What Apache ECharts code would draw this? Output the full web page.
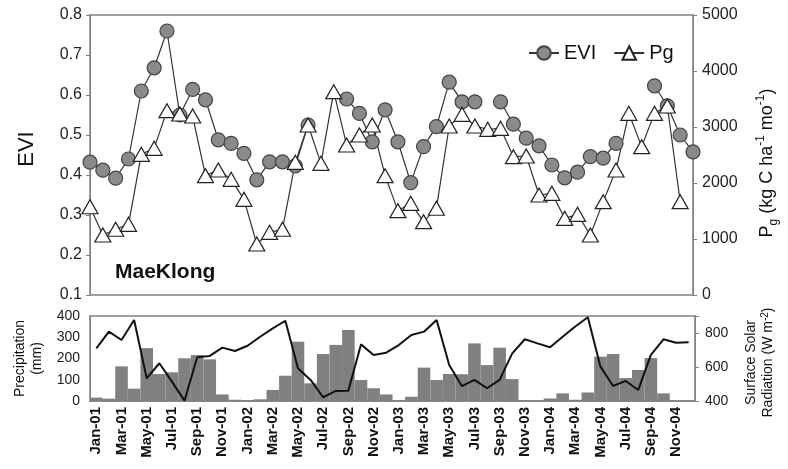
<!DOCTYPE html>
<html><head><meta charset="utf-8">
<script src="https://cdn.jsdelivr.net/npm/echarts@6/dist/echarts.min.js"></script>
<style>html,body{margin:0;padding:0;background:#fff}#c{width:788px;height:469px}</style>
</head><body><div id="c"></div>
<script>
const months = [
 'Jan-01','Feb-01','Mar-01','Apr-01','May-01','Jun-01','Jul-01','Aug-01','Sep-01','Oct-01','Nov-01','Dec-01',
 'Jan-02','Feb-02','Mar-02','Apr-02','May-02','Jun-02','Jul-02','Aug-02','Sep-02','Oct-02','Nov-02','Dec-02',
 'Jan-03','Feb-03','Mar-03','Apr-03','May-03','Jun-03','Jul-03','Aug-03','Sep-03','Oct-03','Nov-03','Dec-03',
 'Jan-04','Feb-04','Mar-04','Apr-04','May-04','Jun-04','Jul-04','Aug-04','Sep-04','Oct-04','Nov-04','Dec-04'];
const evi = [
 0.432,0.412,0.392,0.440,0.610,0.668,0.760,0.550,0.614,0.588,0.488,0.479,
 0.454,0.388,0.433,0.433,0.423,0.525,null,null,0.590,0.554,0.483,0.563,
 0.483,0.381,0.471,0.521,0.632,0.583,0.583,null,0.583,0.527,0.492,0.473,
 0.425,0.393,0.407,0.446,0.442,0.479,null,null,0.623,0.573,0.500,0.458];
const pg = [
 1577,1071,1173,1262,2512,2619,3292,3232,3196,2131,2232,2065,
 1708,911,1119,1173,2369,3036,2351,3631,2679,2857,3036,2131,
 1506,1637,1310,1548,3018,3226,3018,2958,2976,2470,2482,1786,
 1815,1369,1440,1071,1667,2232,3244,2649,3244,3375,1667,null];
const precipitation = [
 16,11,163,58,249,127,135,201,216,196,31,6,
 2,8,52,119,279,83,221,264,334,99,60,31,
 1,20,157,99,127,126,271,169,251,103,1,1,
 12,36,6,40,209,221,108,146,202,36,0,0];
const radiation = [
 710,808,759,876,533,622,514,402,657,665,714,694,
 725,778,827,872,592,524,422,459,461,733,671,684,
 729,788,808,876,612,488,524,475,524,680,763,739,
 716,778,838,893,602,488,518,465,671,763,743,745];

const FONT = 'Liberation Sans, Arial, sans-serif';
const GRAY = '#808080';
const chart = echarts.init(document.getElementById('c'));
chart.setOption({
  animation: false,
  textStyle: {fontFamily: FONT},
  title: {text: 'MaeKlong', left: 110, top: 257,
    textStyle: {fontFamily: FONT, fontSize: 21, fontWeight: 'bold', color: '#111'}},
  legend: {data: ['EVI', 'Pg'], left: 523, top: 38, itemWidth: 30, itemHeight: 17, itemGap: 17,
    textStyle: {fontFamily: FONT, fontSize: 20, color: '#111'}},
  grid: [
    {left: 90, top: 15, width: 603, height: 280, show: true, borderColor: GRAY, borderWidth: 1.5},
    {left: 90, top: 316, width: 605, height: 85, show: true, borderColor: GRAY, borderWidth: 1.5}
  ],
  xAxis: [
    {gridIndex: 0, type: 'category', data: months, boundaryGap: false,
      axisLine: {show: false}, axisTick: {show: false}, axisLabel: {show: false}},
    {gridIndex: 1, type: 'category', data: months, boundaryGap: true,
      axisLine: {lineStyle: {color: GRAY, width: 1.5}},
      axisTick: {interval: 1, length: 4, lineStyle: {color: GRAY}},
      axisLabel: {interval: 1, rotate: 90, fontSize: 15, fontWeight: 'bold', color: '#111', margin: 6}}
  ],
  yAxis: [
    {gridIndex: 0, type: 'value', min: 0.1, max: 0.8, interval: 0.1,
      name: 'EVI', nameLocation: 'middle', nameGap: 52, nameRotate: 90,
      nameTextStyle: {fontSize: 22, color: '#111', padding: [0, 0, 0, 12]},
      axisLine: {show: true, lineStyle: {color: GRAY}},
      axisTick: {show: true, length: 4, lineStyle: {color: GRAY}},
      axisLabel: {fontSize: 16, color: '#222', margin: 8, formatter: v => v.toFixed(1)},
      splitLine: {show: false}},
    {gridIndex: 0, type: 'value', position: 'right', min: 0, max: 5000, interval: 1000,
      name: '{a|P}{sub|g}{a| (kg C ha}{sup|-1}{a| mo}{sup|-1}{a|)}',
      nameLocation: 'middle', nameGap: 62, nameRotate: 90,
      nameTextStyle: {padding: [0, 16, 0, 0], rich: {
        a: {fontSize: 18, color: '#111', lineHeight: 25, fontFamily: FONT},
        sub: {fontSize: 12, color: '#111', lineHeight: 12, verticalAlign: 'bottom', fontFamily: FONT},
        sup: {fontSize: 12, color: '#111', lineHeight: 12, verticalAlign: 'top', fontFamily: FONT}}},
      axisLine: {show: true, lineStyle: {color: GRAY}},
      axisTick: {show: true, length: 4, lineStyle: {color: GRAY}},
      axisLabel: {fontSize: 16, color: '#222', margin: 9, formatter: v => String(v)},
      splitLine: {show: false}},
    {gridIndex: 1, type: 'value', min: 0, max: 400, interval: 100,
      name: 'Precipitation\n(mm)', nameLocation: 'middle', nameGap: 42, nameRotate: 90,
      nameTextStyle: {fontSize: 14, color: '#111', lineHeight: 17},
      axisLine: {show: true, lineStyle: {color: GRAY}},
      axisTick: {show: false},
      axisLabel: {fontSize: 14, color: '#222', margin: 10},
      splitLine: {show: false}},
    {gridIndex: 1, type: 'value', position: 'right', min: 400, max: 900, interval: 200,
      name: '{a|Surface Solar}\n{a|Radiation (W m}{sup|-2}{a|)}',
      nameLocation: 'middle', nameGap: 48, nameRotate: 90,
      nameTextStyle: {padding: [0, 8, 0, 0], rich: {
        a: {fontSize: 14, color: '#111', lineHeight: 17, fontFamily: FONT},
        sup: {fontSize: 10, color: '#111', lineHeight: 10, verticalAlign: 'top', fontFamily: FONT}}},
      axisLine: {show: true, lineStyle: {color: GRAY}},
      axisTick: {show: true, length: 4, lineStyle: {color: GRAY}},
      axisLabel: {fontSize: 14, color: '#222', margin: 10, formatter: v => (v === 900 ? '' : String(v))},
      splitLine: {show: false}}
  ],
  series: [
    {name: 'EVI', type: 'line', xAxisIndex: 0, yAxisIndex: 0, data: evi, connectNulls: false,
      symbol: 'circle', symbolSize: 14, showSymbol: true, showAllSymbol: true,
      lineStyle: {color: '#333', width: 1.2},
      itemStyle: {color: '#8a8a8a', borderColor: '#444', borderWidth: 1.2}},
    {name: 'Pg', type: 'line', xAxisIndex: 0, yAxisIndex: 1, data: pg, connectNulls: false,
      symbol: 'triangle', symbolSize: [16, 14], showSymbol: true, showAllSymbol: true,
      lineStyle: {color: '#333', width: 1.2},
      itemStyle: {color: '#fff', borderColor: '#222', borderWidth: 1.2}},
    {name: 'Precipitation', type: 'bar', xAxisIndex: 1, yAxisIndex: 2, data: precipitation,
      barCategoryGap: 0, itemStyle: {color: '#808080'}},
    {name: 'Radiation', type: 'line', xAxisIndex: 1, yAxisIndex: 3, data: radiation,
      symbol: 'none', lineStyle: {color: '#111', width: 2}}
  ]
});
</script>
</body></html>
